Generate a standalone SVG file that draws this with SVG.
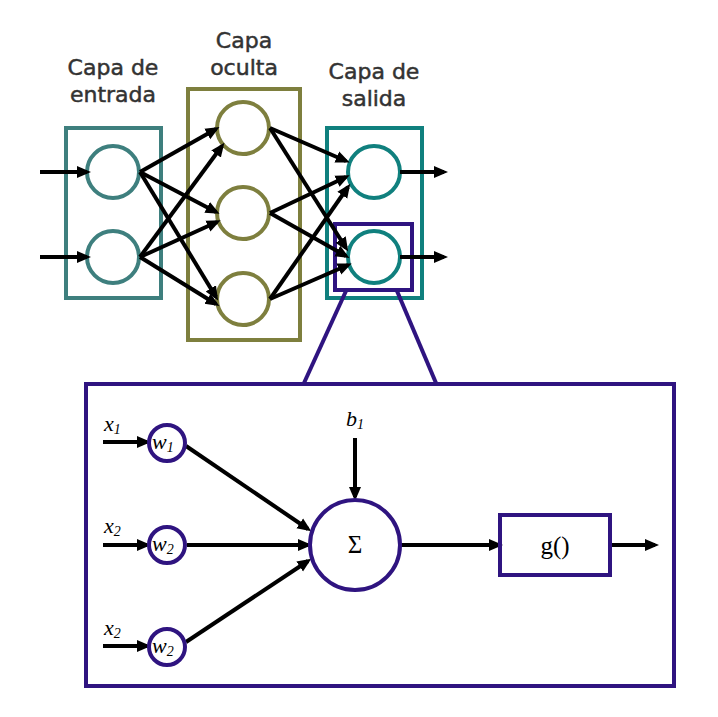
<svg xmlns="http://www.w3.org/2000/svg" width="718" height="717" viewBox="0 0 718 717">
<style>
.lbl{font-family:"DejaVu Sans","Open Sans",sans-serif;font-size:22px;fill:#333333;stroke:#333333;stroke-width:0.5;text-anchor:middle}
.var{font-family:"Liberation Serif","DejaVu Serif",serif;font-style:italic;font-size:22px;fill:#000}
.sub{font-size:14px}
.sym{font-family:"Liberation Serif","DejaVu Serif",serif;font-size:25px;fill:#000;text-anchor:middle}
.in{fill:none;stroke:#3e7f7e;stroke-width:4}
.hid{fill:none;stroke:#7e7f3e;stroke-width:4}
.out{fill:none;stroke:#10807e;stroke-width:4}
.pur{fill:none;stroke:#2f1480;stroke-width:4}
.con{stroke:#000;stroke-width:4;fill:none;marker-end:url(#ah)}
</style>
<defs>
<marker id="ah" markerUnits="userSpaceOnUse" markerWidth="14" markerHeight="14" viewBox="0 0 14 14" refX="10" refY="7" orient="auto">
<path d="M0,1 L14,7 L0,13 z" fill="#000"/>
</marker>
</defs>
<rect width="718" height="717" fill="#fff"/>

<g id="labels">
<text class="lbl" x="113" y="75">Capa de</text>
<text class="lbl" x="113" y="102">entrada</text>
<text class="lbl" x="244" y="48">Capa</text>
<text class="lbl" x="244" y="75">oculta</text>
<text class="lbl" x="374" y="79">Capa de</text>
<text class="lbl" x="374" y="106">salida</text>
</g>

<g id="input-layer">
<rect class="in" x="66" y="128" width="95" height="170"/>
<circle class="in" cx="113" cy="172" r="26"/>
<circle class="in" cx="113" cy="257" r="26"/>
</g>
<g id="hidden-layer">
<rect class="hid" x="188" y="89" width="112" height="251"/>
<circle class="hid" cx="243" cy="128" r="26"/>
<circle class="hid" cx="243" cy="213" r="26"/>
<circle class="hid" cx="243" cy="299" r="26"/>
</g>
<g id="output-layer">
<rect class="out" x="327" y="128" width="95" height="170"/>
<circle class="out" cx="374" cy="172" r="26"/>
<circle class="out" cx="374" cy="257" r="26"/>
</g>
<g id="zoom-frame">
<rect class="pur" x="335" y="224" width="77" height="66"/>
<line class="pur" x1="346" y1="291" x2="304" y2="383"/>
<line class="pur" x1="397" y1="291" x2="436" y2="383"/>
<rect class="pur" x="86" y="384" width="588" height="302"/>
</g>

<g id="connectors">
<line class="con" x1="40" y1="172" x2="87" y2="172"/>
<line class="con" x1="40" y1="257" x2="87" y2="257"/>
<line class="con" x1="140" y1="172" x2="216" y2="129"/>
<line class="con" x1="140" y1="172" x2="216" y2="212"/>
<line class="con" x1="140" y1="172" x2="216" y2="297"/>
<line class="con" x1="140" y1="257" x2="222" y2="146"/>
<line class="con" x1="140" y1="257" x2="217" y2="222"/>
<line class="con" x1="140" y1="257" x2="216" y2="304"/>
<line class="con" x1="270" y1="128" x2="346" y2="161"/>
<line class="con" x1="270" y1="128" x2="346" y2="248"/>
<line class="con" x1="270" y1="213" x2="346" y2="177"/>
<line class="con" x1="270" y1="213" x2="346" y2="256"/>
<line class="con" x1="270" y1="299" x2="348" y2="187"/>
<line class="con" x1="270" y1="299" x2="348" y2="265"/>
<line class="con" x1="400" y1="172" x2="444" y2="172"/>
<line class="con" x1="400" y1="257" x2="444" y2="257"/>

<line class="con" x1="103" y1="442" x2="147" y2="442"/>
<line class="con" x1="103" y1="545" x2="147" y2="545"/>
<line class="con" x1="103" y1="646" x2="147" y2="646"/>
<line class="con" x1="186" y1="446" x2="308" y2="529"/>
<line class="con" x1="187" y1="545" x2="308" y2="545"/>
<line class="con" x1="186" y1="642" x2="308" y2="561"/>
<line class="con" x1="355" y1="438" x2="355" y2="497"/>
<line class="con" x1="401" y1="545" x2="499" y2="545"/>
<line class="con" x1="612" y1="545" x2="655" y2="545"/>
</g>

<g id="w1"><circle class="pur" cx="167" cy="443" r="18"/><text class="var" x="152" y="449">w<tspan class="sub" dy="3">1</tspan></text></g>
<g id="w2a"><circle class="pur" cx="167" cy="545" r="18"/><text class="var" x="152" y="551">w<tspan class="sub" dy="3">2</tspan></text></g>
<g id="w2b"><circle class="pur" cx="167" cy="647" r="18"/><text class="var" x="152" y="653">w<tspan class="sub" dy="3">2</tspan></text></g>
<g id="x-labels">
<text class="var" x="104" y="431">x<tspan class="sub" dy="3">1</tspan></text>
<text class="var" x="104" y="533">x<tspan class="sub" dy="3">2</tspan></text>
<text class="var" x="104" y="635">x<tspan class="sub" dy="3">2</tspan></text>
<text class="var" x="346" y="426">b<tspan class="sub" dy="3">1</tspan></text>
</g>
<g id="sum"><circle class="pur" cx="355" cy="545" r="45"/><text class="sym" x="355" y="553">Σ</text></g>
<g id="g"><rect class="pur" x="500" y="515" width="110" height="60"/><text class="sym" x="555" y="554">g()</text></g>
</svg>
